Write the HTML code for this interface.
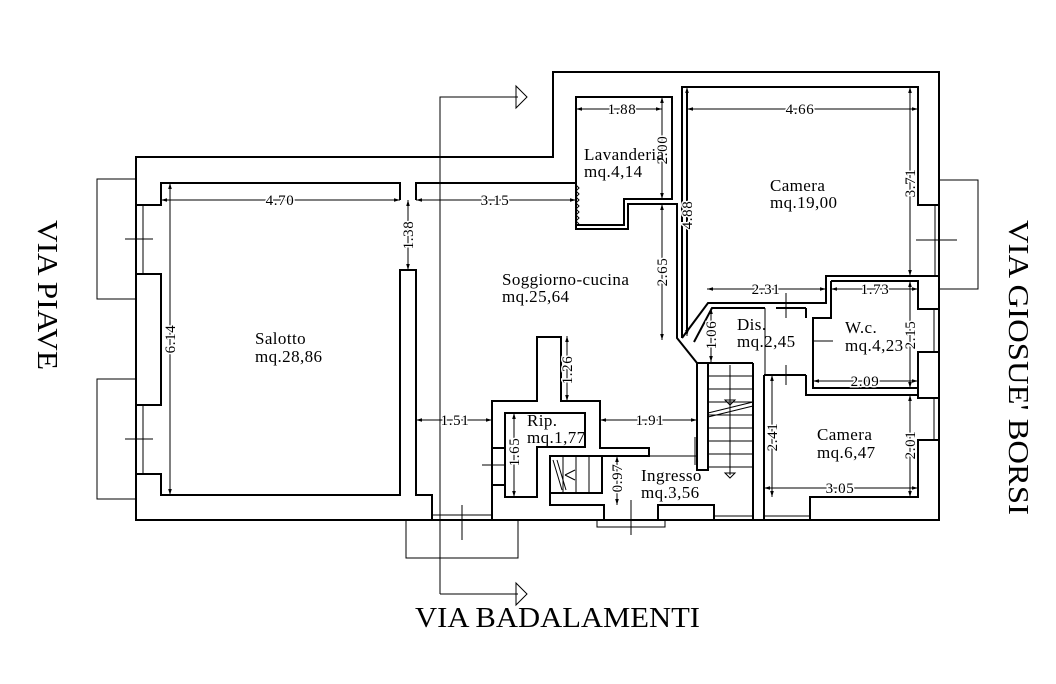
<!DOCTYPE html>
<html><head><meta charset="utf-8"><style>
html,body{margin:0;padding:0;background:#fff;width:1056px;height:684px;overflow:hidden}
svg{display:block}
.w{fill:none;stroke:#000;stroke-width:2}
.t{fill:none;stroke:#000;stroke-width:1}
.d{font-family:"Liberation Serif",serif;font-size:15px;letter-spacing:0.6px;fill:#000}
.r{font-family:"Liberation Serif",serif;font-size:17px;letter-spacing:0.4px;fill:#000}
.s{font-family:"Liberation Serif",serif;font-size:29px;fill:#000}
</style></head><body>
<svg width="1056" height="684" viewBox="0 0 1056 684" xmlns="http://www.w3.org/2000/svg">
<defs>
<marker id="a" viewBox="0 0 10 10" refX="10" refY="5" markerWidth="9" markerHeight="6" orient="auto-start-reverse"><path d="M0,2 L10,5 L0,8 z" fill="#000"/></marker>
</defs>
<path class="w" d="M136,157 H553 V72 H939 V520 H136 Z"/>
<path class="t" d="M136,179 H97 V299 H136 M136,379 H97 V499 H136"/>
<path class="w" d="M136,205 H161 V183 H400 V200 M416,200 V183 H576"/>
<rect class="w" x="136" y="274" width="25" height="131"/>
<path class="w" d="M136,474 H161 V495 H400 V270 H416 V495 H432 V520"/>
<path class="t" d="M143,205 V274 M143,405 V474 M125,239 H153 M125,439 H153"/>
<path class="t" d="M432,515 H492 M406,520 V558 H518 V520 M462,505 V540"/>
<path class="t" d="M440,594 V97 H518 M440,594 H518"/>
<path class="t" d="M516,86 L527,97 L516,108 Z M516,583 L527,594 L516,605 Z" fill="#fff"/>
<path class="w" d="M576,97 H672 V199 H624 V225 H576 Z"/>
<path class="w" d="M576,225 V229 H628 V204 H677 V338 L697,363"/>
<path class="t" d="M576,185 l3,3 l-3,3 l3,3 l-3,3 l3,3 l-3,3 l3,3 l-3,3 l3,3 l-3,3 l3,3 l-3,3 l3,3"/>
<path class="w" d="M682,338 V87 H918 V205 H939"/>
<path class="w" d="M687,332 V92"/>
<path class="w" d="M682,338 L708,303 H826 V276 H939"/>
<path class="w" d="M694,342 L712,308 H765 M776,308 H806"/>
<path class="t" d="M939,180 H978 V289 H939 M935,205 V276 M916,240 H957"/>
<path class="w" d="M831,281 H918 V309 H939 M831,281 V318 H813 V388 H918 V352 H939 M918,398 H939"/>
<path class="w" d="M806,308 V318 M806,375 V395 H918 V398"/>
<rect class="w" x="918" y="352" width="21" height="46"/>
<path class="t" d="M934,309 V352 M934,398 V440"/>
<path class="t" d="M765,308 V375 M786,293 V318 M786,365 V385 M814,341 H833"/>
<path class="w" d="M764,375 H806 M764,375 V520 M753,363 V520 M810,520 V497 H918 V440 H939"/>
<path class="t" d="M764,516 H810 M714,516 H753"/>
<path class="w" d="M697,363 H708 V470 H697 Z M708,363 H753"/>
<path class="t" d="M708,376 H753 M708,389 H753 M708,402 H753 M708,415 H753 M708,428 H753 M708,441 H753 M708,454 H753 M708,467 H753 M730,365 V475 M708,413 L753,402 M708,417 L753,406"/>
<path class="t" d="M725,400 L735,400 L730,405 Z M725,473 L735,473 L730,478 Z"/>
<path class="w" d="M492,520 V401 H537 V337 H561 V401 H600 V448 H649 V456 H602"/>
<path class="w" d="M505,413 H585 V447 H537 V497 H505 Z"/>
<path class="w" d="M492,448 H505 M492,485 H505"/>
<path class="t" d="M482,465 H505"/>
<path class="w" d="M550,456 H602 V493 H550 Z M550,493 V505 H604 V520 M658,520 V505 H714 V520"/>
<path class="t" d="M563,456 V493 M576,456 V493 M589,456 V493 M553,460 L562,490 M557,460 L566,490 M565,475 L575,470 M565,475 L575,480"/>
<path class="t" d="M597,520 V527 H665 V520 M631,500 V535 M649,456 H697 M695,437 V465"/>
<g class="t" marker-start="url(#a)" marker-end="url(#a)">
<line x1="161" y1="200" x2="400" y2="200"/>
<line x1="416" y1="200" x2="576" y2="200"/>
<line x1="408" y1="200" x2="408" y2="270"/>
<line x1="170" y1="183" x2="170" y2="495"/>
<line x1="416" y1="420" x2="492" y2="420"/>
<line x1="514" y1="413" x2="514" y2="497"/>
<line x1="567" y1="336" x2="567" y2="401"/>
<line x1="600" y1="420" x2="697" y2="420"/>
<line x1="617" y1="456" x2="617" y2="505"/>
<line x1="576" y1="109" x2="662" y2="109"/>
<line x1="662" y1="97" x2="662" y2="199"/>
<line x1="662" y1="204" x2="662" y2="340"/>
<line x1="687" y1="87" x2="687" y2="336"/>
<line x1="687" y1="109" x2="918" y2="109"/>
<line x1="910" y1="87" x2="910" y2="276"/>
<line x1="707" y1="289" x2="826" y2="289"/>
<line x1="831" y1="289" x2="918" y2="289"/>
<line x1="711" y1="308" x2="711" y2="362"/>
<line x1="910" y1="281" x2="910" y2="388"/>
<line x1="813" y1="381" x2="918" y2="381"/>
<line x1="772" y1="375" x2="772" y2="497"/>
<line x1="910" y1="395" x2="910" y2="497"/>
<line x1="764" y1="488" x2="918" y2="488"/>
</g>
<g class="d" style="paint-order:stroke;stroke:#fff;stroke-width:3" text-anchor="middle">
<text x="280" y="205">4.70</text>
<text x="495" y="205">3.15</text>
<text x="455" y="425">1.51</text>
<text x="650" y="425">1.91</text>
<text x="622" y="114">1.88</text>
<text x="800" y="114">4.66</text>
<text x="766" y="294">2.31</text>
<text x="875" y="294">1.73</text>
<text x="865" y="386">2.09</text>
<text x="840" y="493">3.05</text>
<text transform="translate(413,235) rotate(-90)">1.38</text>
<text transform="translate(175,339) rotate(-90)">6.14</text>
<text transform="translate(519,452) rotate(-90)">1.65</text>
<text transform="translate(572,370) rotate(-90)">1.26</text>
<text transform="translate(622,478) rotate(-90)">0.97</text>
<text transform="translate(667,150) rotate(-90)">2.00</text>
<text transform="translate(667,272) rotate(-90)">2.65</text>
<text transform="translate(692,215) rotate(-90)">4.88</text>
<text transform="translate(915,183) rotate(-90)">3.71</text>
<text transform="translate(716,335) rotate(-90)">1.06</text>
<text transform="translate(915,335) rotate(-90)">2.15</text>
<text transform="translate(777,437) rotate(-90)">2.41</text>
<text transform="translate(915,445) rotate(-90)">2.01</text>
</g>
<g class="r">
<text x="255" y="344">Salotto</text><text x="255" y="362">mq.28,86</text>
<text x="502" y="285">Soggiorno-cucina</text><text x="502" y="302">mq.25,64</text>
<text x="584" y="160">Lavanderia</text><text x="584" y="177">mq.4,14</text>
<text x="770" y="191">Camera</text><text x="770" y="208">mq.19,00</text>
<text x="737" y="330">Dis.</text><text x="737" y="347">mq.2,45</text>
<text x="845" y="333">W.c.</text><text x="845" y="351">mq.4,23</text>
<text x="527" y="426">Rip.</text><text x="527" y="443">mq.1,77</text>
<text x="641" y="481">Ingresso</text><text x="641" y="498">mq.3,56</text>
<text x="817" y="440">Camera</text><text x="817" y="458">mq.6,47</text>
</g>
<g class="s">
<text x="415" y="627" textLength="285" lengthAdjust="spacingAndGlyphs">VIA BADALAMENTI</text>
<text transform="translate(38,220) rotate(90)" textLength="150" lengthAdjust="spacingAndGlyphs">VIA PIAVE</text>
<text transform="translate(1009,220) rotate(90)" textLength="295" lengthAdjust="spacingAndGlyphs">VIA GIOSUE' BORSI</text>
</g>
</svg>
</body></html>
